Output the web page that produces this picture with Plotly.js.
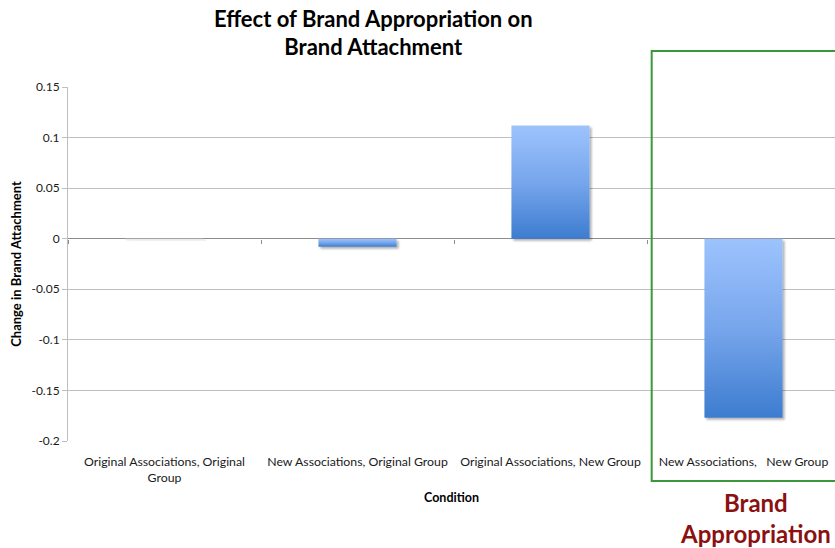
<!DOCTYPE html>
<html>
<head>
<meta charset="utf-8">
<script src="https://cdn.plot.ly/plotly-3.0.1.min.js"></script>
<style>html,body{margin:0;padding:0;background:#fff;}#chart{width:835px;height:548px;}</style>
</head>
<body>
<div id="chart"></div>
<script>
const categories = [
  'Original Associations, Original<br>Group',
  'New Associations, Original Group',
  'Original Associations, New Group',
  'New Associations,\u00a0\u00a0\u00a0New Group'
];
const values = [-0.0015, -0.008, 0.112, -0.177];
const yTickVals = [0.15, 0.1, 0.05, 0, -0.05, -0.1, -0.15, -0.2];
const yTickText = ['0.15', '0.1', '0.05', '0', '-0.05', '-0.1', '-0.15', '-0.2'];
const barColors = ['#ececec', '#6a9ee8', '#6a9ee8', '#6a9ee8'];

const FONT = 'Lato, "Open Sans", sans-serif';

const traces = [
  {
    type: 'bar', x: categories, y: values,
    marker: {color: barColors, line: {width: 0}},
    hoverinfo: 'skip'
  },
  {
    type: 'scatter', mode: 'markers', x: categories, y: values,
    xaxis: 'x2', marker: {opacity: 0}, hoverinfo: 'skip', showlegend: false
  }
];

const zeroFrac = (0 - (-0.2)) / (0.15 - (-0.2));

const layout = {
  width: 835, height: 548,
  margin: {l: 68, r: 0, t: 87, b: 107},
  paper_bgcolor: '#fff', plot_bgcolor: '#fff',
  showlegend: false,
  bargap: 0.595,
  font: {family: FONT, size: 12, color: '#1a1a1a'},
  title: {
    text: '<b>Effect of Brand Appropriation on<br>Brand Attachment</b>',
    font: {family: FONT, size: 22, color: '#000'},
    x: 0.447, xref: 'container', xanchor: 'center',
    y: 0.951, yref: 'container', yanchor: 'middle'
  },
  xaxis: {
    type: 'category', categoryarray: categories, range: [-0.5, 3.474],
    showgrid: false, showline: false, zeroline: false, ticks: '',
    ticklabelstandoff: 12,
    tickfont: {family: FONT, size: 12.3, color: '#1a1a1a'},
    title: {text: '<b>Condition</b>', font: {family: FONT, size: 12.5, color: '#000'}, standoff: 8}
  },
  xaxis2: {
    type: 'category', categoryarray: categories, range: [-0.5, 3.474],
    overlaying: 'x', anchor: 'free', position: zeroFrac,
    tickson: 'boundaries', ticks: 'outside', ticklen: 4, tickcolor: '#8c8c8c', tickwidth: 1,
    showticklabels: false, showgrid: false, showline: false, zeroline: false
  },
  yaxis: {
    range: [-0.2, 0.15], tickvals: yTickVals, ticktext: yTickText,
    showgrid: true, gridcolor: '#bfbfbf', gridwidth: 1,
    zeroline: true, zerolinecolor: '#8c8c8c', zerolinewidth: 1,
    showline: true, linecolor: '#bfbfbf', linewidth: 1,
    ticks: 'outside', ticklen: 5, tickcolor: '#bfbfbf',
    tickfont: {family: FONT, size: 12, color: '#1a1a1a'},
    title: {text: '<b>Change in Brand Attachment</b>', font: {family: FONT, size: 13, color: '#000'}, standoff: 6}
  },
  shapes: [
    {type: 'rect', xref: 'paper', yref: 'paper', x0: 0.761, x1: 1.1, y0: -0.113, y1: 1.102,
     line: {color: '#3a973a', width: 2}, fillcolor: 'rgba(0,0,0,0)', layer: 'above'}
  ],
  annotations: [
    {text: '<b>Brand<br>Appropriation</b>', xref: 'paper', yref: 'paper', x: 0.896, y: -0.217,
     xanchor: 'center', yanchor: 'middle', showarrow: false,
     font: {family: FONT, size: 24, color: '#8b1111'}}
  ]
};

Plotly.newPlot('chart', traces, layout, {staticPlot: true, displayModeBar: false}).then(function (gd) {
  const svg = gd.querySelector('.main-svg');
  const ns = 'http://www.w3.org/2000/svg';
  let defs = svg.querySelector('defs');
  if (!defs) { defs = document.createElementNS(ns, 'defs'); svg.insertBefore(defs, svg.firstChild); }
  const grad = document.createElementNS(ns, 'linearGradient');
  grad.setAttribute('id', 'barGrad');
  grad.setAttribute('x1', '0'); grad.setAttribute('y1', '0');
  grad.setAttribute('x2', '0'); grad.setAttribute('y2', '1');
  [['0', '#9dc3fd'], ['0.5', '#77a6ec'], ['1', '#3d7ccf']].forEach(function (s) {
    const st = document.createElementNS(ns, 'stop');
    st.setAttribute('offset', s[0]); st.setAttribute('stop-color', s[1]);
    grad.appendChild(st);
  });
  defs.appendChild(grad);
  const filt = document.createElementNS(ns, 'filter');
  filt.setAttribute('id', 'barShadow');
  filt.setAttribute('x', '-20%'); filt.setAttribute('y', '-20%');
  filt.setAttribute('width', '140%'); filt.setAttribute('height', '160%');
  const ds = document.createElementNS(ns, 'feDropShadow');
  ds.setAttribute('dx', '2'); ds.setAttribute('dy', '2'); ds.setAttribute('stdDeviation', '1.2');
  ds.setAttribute('flood-color', '#000'); ds.setAttribute('flood-opacity', '0.3');
  filt.appendChild(ds);
  defs.appendChild(filt);
  const paths = gd.querySelectorAll('.barlayer .point path');
  paths.forEach(function (p, i) {
    if (i > 0) p.style.fill = 'url(#barGrad)';
    p.setAttribute('filter', 'url(#barShadow)');
  });
});
</script>
</body>
</html>
